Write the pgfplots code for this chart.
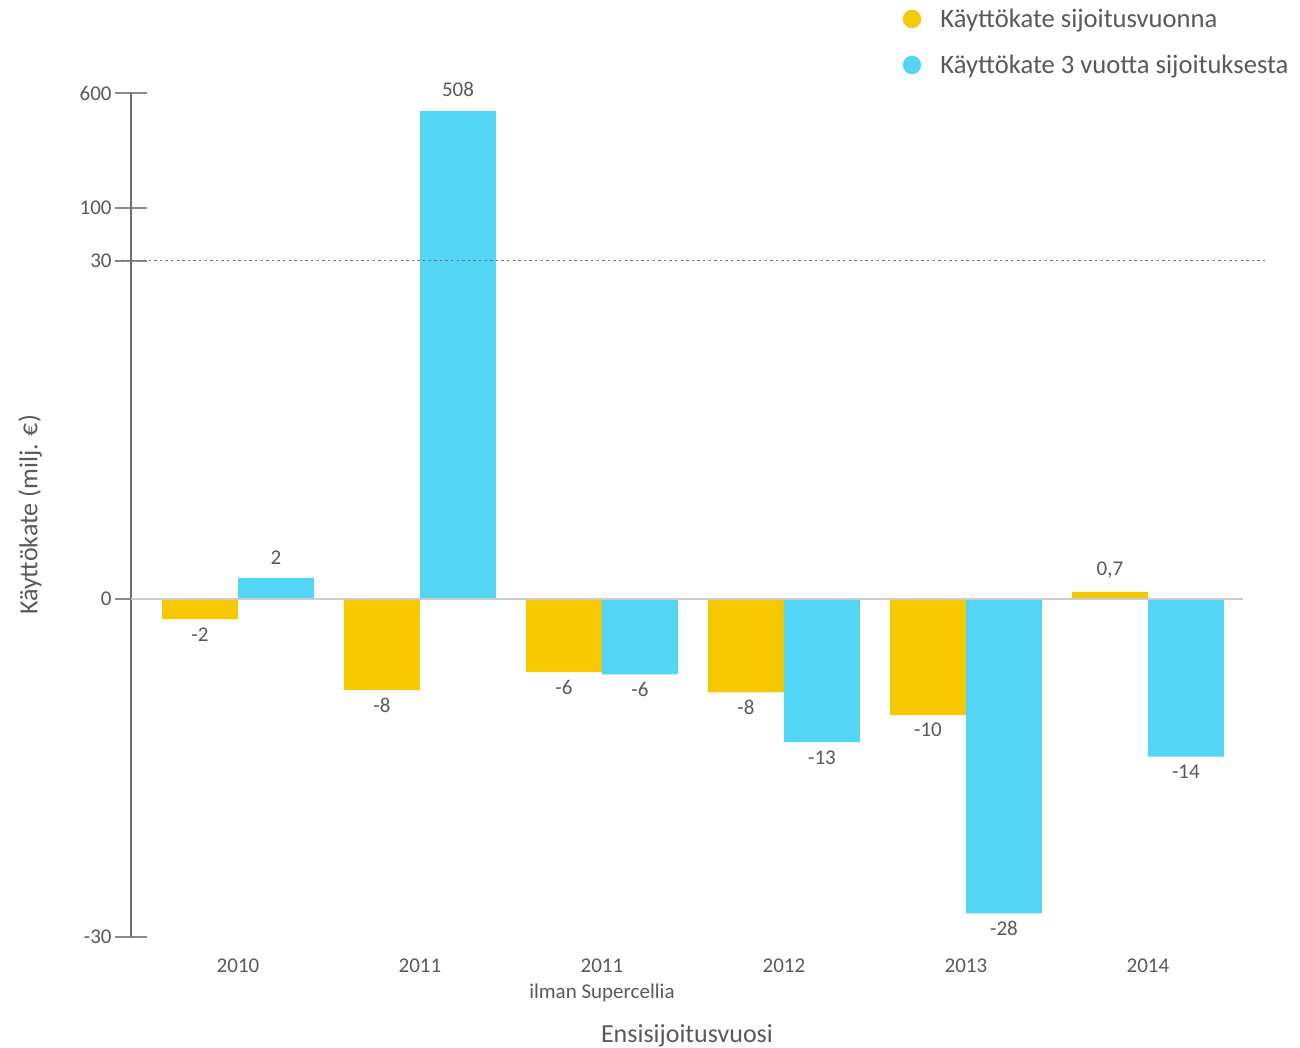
\documentclass[border=0pt]{standalone}
\usepackage{pgfplots}
\pgfplotsset{compat=1.18}
\usepackage{pgfplotstable}
\usepackage{fontspec}
\setmainfont{Carlito}
\definecolor{cyel}{HTML}{F5C800}
\definecolor{ccya}{HTML}{55D5F5}
\definecolor{ctxt}{HTML}{595959}
\definecolor{caxis}{HTML}{6E6E6E}
% display y: linear for [-30,30]; above 30 the axis is compressed (100 -> 34.7, 600 -> 44.9)
\pgfplotstableread{
x y label
0 -1.8 -2
1 -8.1 -8
2 -6.5 -6
3 -8.3 -8
4 -10.3 -10
5 0.62 0,7
}\yellowdata
\pgfplotstableread{
x y label
0 1.86 2
1 43.3 508
2 -6.7 -6
3 -12.7 -13
4 -27.9 -28
5 -14.0 -14
}\cyandata
\begin{document}
\begin{tikzpicture}
\useasboundingbox (-65.5pt,-55.5pt) rectangle ++(650pt,524pt);
\begin{axis}[
  at={(0pt,0pt)}, anchor=south west,
  scale only axis, width=568.5pt, height=422pt,
  xmin=-0.588, xmax=5.66, ymin=-30, ymax=44.9,
  clip=false,
  axis y line*=left, axis x line*=bottom,
  x axis line style={draw=none},
  y axis line style={caxis, line width=0.8pt},
  ytick={-30,0,30,34.7,44.9},
  yticklabels={-30,0,30,100,600},
  tick align=center,
  major tick length=16pt,
  ytick style={caxis!80, line width=0.8pt},
  xtick style={draw=none},
  xtick={0,1,2,3,4,5},
  xticklabels={2010,2011,{2011\\ilman Supercellia},2012,2013,2014},
  yticklabel style={font=\fontsize{10.5}{12}\selectfont, text=ctxt, inner sep=0pt, anchor=east, xshift=-1.5pt},
  xticklabel style={font=\fontsize{10.5}{13}\selectfont, text=ctxt, align=center, inner sep=0pt, anchor=north, yshift=5.5pt},
  ybar, bar width=38pt,
  point meta=explicit symbolic,
  nodes near coords,
  nodes near coords align={vertical},
  visualization depends on={y \as \rawy},
  every node near coord/.append style={font=\fontsize{10.5}{12}\selectfont, text=ctxt, inner sep=0pt, yshift={(\rawy>0)*18pt-11.25pt}},
]
\addplot[fill=cyel, draw=none, bar shift=-19pt] table[x=x, y=y, meta=label] {\yellowdata};
\addplot[fill=ccya, draw=none, bar shift=19pt] table[x=x, y=y, meta=label] {\cyandata};
\draw[black!20, line width=0.8pt] (axis cs:-0.588,0) -- (axis cs:5.52,0);
\draw[caxis, dash pattern=on 1.2pt off 1.6pt, line width=0.5pt] (axis cs:-0.676,30) -- (axis cs:5.66,30);
\end{axis}
\node[rotate=90, font=\fontsize{13}{15}\selectfont, text=ctxt] at (-50.5pt,211pt) {Käyttökate (milj. €)};
\node[font=\fontsize{13}{15}\selectfont, text=ctxt] at (278pt,-49.5pt) {Ensisijoitusvuosi};
\fill[cyel] (390.5pt,459pt) circle (4.6pt);
\fill[ccya] (390.5pt,436pt) circle (4.6pt);
\node[anchor=west, inner sep=0pt, font=\fontsize{13.3}{15}\selectfont, text=ctxt] at (404.5pt,458pt) {Käyttökate sijoitusvuonna};
\node[anchor=west, inner sep=0pt, font=\fontsize{13.3}{15}\selectfont, text=ctxt] at (404.5pt,435pt) {Käyttökate 3 vuotta sijoituksesta};
\end{tikzpicture}
\end{document}
